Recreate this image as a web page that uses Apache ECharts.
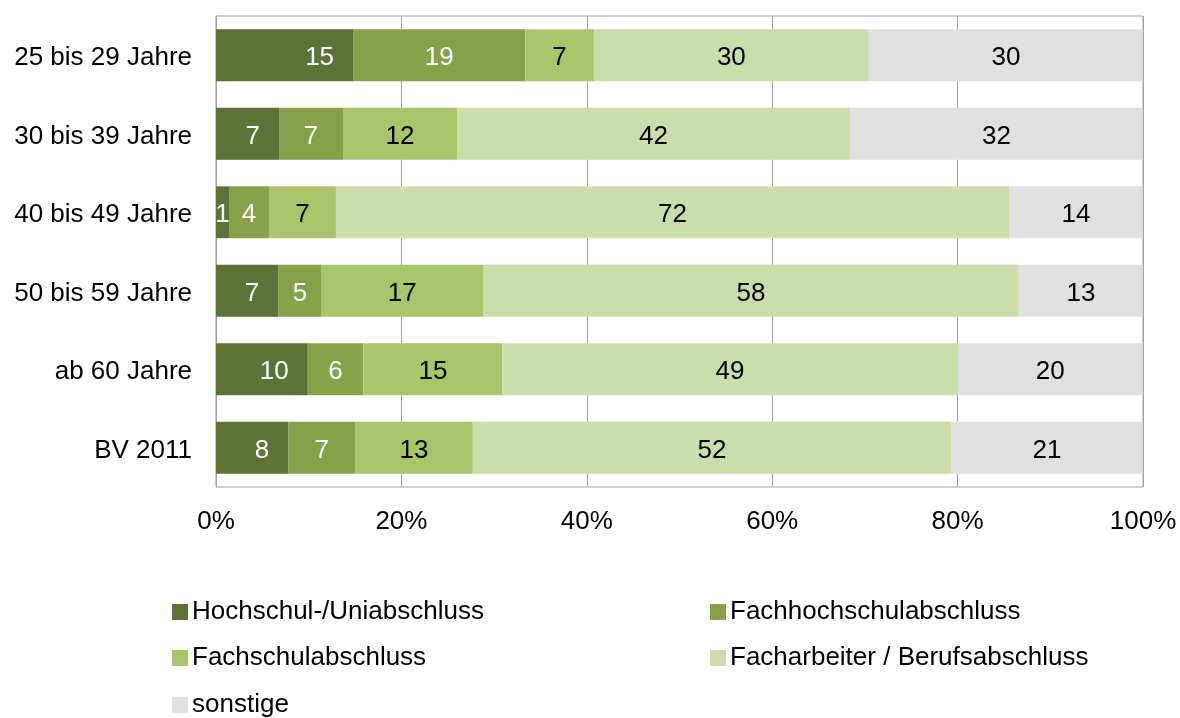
<!DOCTYPE html>
<html>
<head>
<meta charset="utf-8">
<script src="https://cdn.jsdelivr.net/npm/echarts@6/dist/echarts.min.js"></script>
<style>
  html, body { margin: 0; padding: 0; background: #fff; }
</style>
</head>
<body>
<div id="main" style="width: 1180px; height: 718px;"></div>
<script>
// Altersgruppen (von oben nach unten)
var categories = ['25 bis 29 Jahre', '30 bis 39 Jahre', '40 bis 49 Jahre', '50 bis 59 Jahre', 'ab 60 Jahre', 'BV 2011']
var seriesNames = ['Hochschul-/Uniabschluss', 'Fachhochschulabschluss', 'Fachschulabschluss', 'Facharbeiter / Berufsabschluss', 'sonstige']

// Anteile in %
var hochschul = [14.8, 6.8, 1.4, 6.7, 9.9, 7.8]
var fachhoch = [18.6, 6.9, 4.3, 4.7, 6.0, 7.2]
var fachschul = [7.4, 12.3, 7.2, 17.4, 15.0, 12.7]
var facharbeiter = [29.7, 42.4, 72.4, 57.8, 49.1, 51.6]
var sonstige = [29.6, 31.6, 14.4, 13.4, 20.0, 20.7]

var rawData = [hochschul, fachhoch, fachschul, facharbeiter, sonstige]
var COLORS = ['#5e7136', '#89a04b', '#aac46c', '#ccdcaa', '#e0e0e0']
var LABEL_COLORS = ['#fff', '#fff', '#000', '#000', '#000']
var FONT = '"Liberation Sans", Arial, sans-serif'
var FS = 26

// Summe je Zeile -> auf 100 % skalieren
var totals = categories.map(function (c, i) {
  return rawData.reduce(function (s, arr) { return s + arr[i] }, 0)
})

var chartDom = document.getElementById('main')
var myChart = echarts.init(chartDom)

var series = rawData.map(function (arr, k) {
  return {
    name: seriesNames[k],
    type: 'bar',
    stack: 'total',
    barCategoryGap: '34%',
    itemStyle: { color: COLORS[k] },
    label: {
      show: true,
      position: k === 0 ? 'insideRight' : 'inside',
      distance: 19,
      offset: [0, 3],
      color: LABEL_COLORS[k],
      fontSize: FS,
      fontFamily: FONT,
      formatter: function (p) { return Math.round(arr[p.dataIndex]) }
    },
    emphasis: { disabled: true },
    data: arr.map(function (v, i) {
      var item = { value: v / totals[i] * 100 }
      // zu schmale Segmente: Beschriftung mittig
      if (k === 0 && v < 5) item.label = { position: 'inside' }
      return item
    })
  }
})

// Legende: zwei Spalten, drei Zeilen
var legendPos = [[172, 599], [710, 599], [172, 645], [710, 645], [172, 692]]
var legends = seriesNames.map(function (n, k) {
  return {
    data: [n],
    left: legendPos[k][0],
    top: legendPos[k][1],
    padding: 0,
    icon: 'rect',
    itemWidth: 16,
    itemHeight: 16,
    selectedMode: false,
    textStyle: { fontSize: FS, fontFamily: FONT, color: '#000', padding: [0, 0, 0, -1] }
  }
})

var option = {
  animation: false,
  textStyle: { fontFamily: FONT },
  grid: {
    left: 216,
    right: 37,
    top: 16,
    bottom: 231,
    show: true,
    borderColor: '#a0a0a0',
    borderWidth: 1
  },
  legend: legends,
  xAxis: {
    type: 'value',
    min: 0,
    max: 100,
    interval: 20,
    axisLine: { show: false },
    axisTick: { show: false },
    splitLine: { show: true, lineStyle: { color: '#a0a0a0', width: 1 } },
    axisLabel: {
      formatter: '{value}%',
      fontSize: FS,
      fontFamily: FONT,
      color: '#000',
      margin: 22
    }
  },
  yAxis: {
    type: 'category',
    inverse: true,
    data: categories,
    axisTick: { show: false },
    axisLine: { show: true, lineStyle: { color: '#a0a0a0' } },
    axisLabel: {
      fontSize: FS,
      fontFamily: FONT,
      color: '#000',
      margin: 24,
      verticalAlign: 'top',
      lineHeight: 6
    }
  },
  series: series
}

myChart.setOption(option)
</script>
</body>
</html>
